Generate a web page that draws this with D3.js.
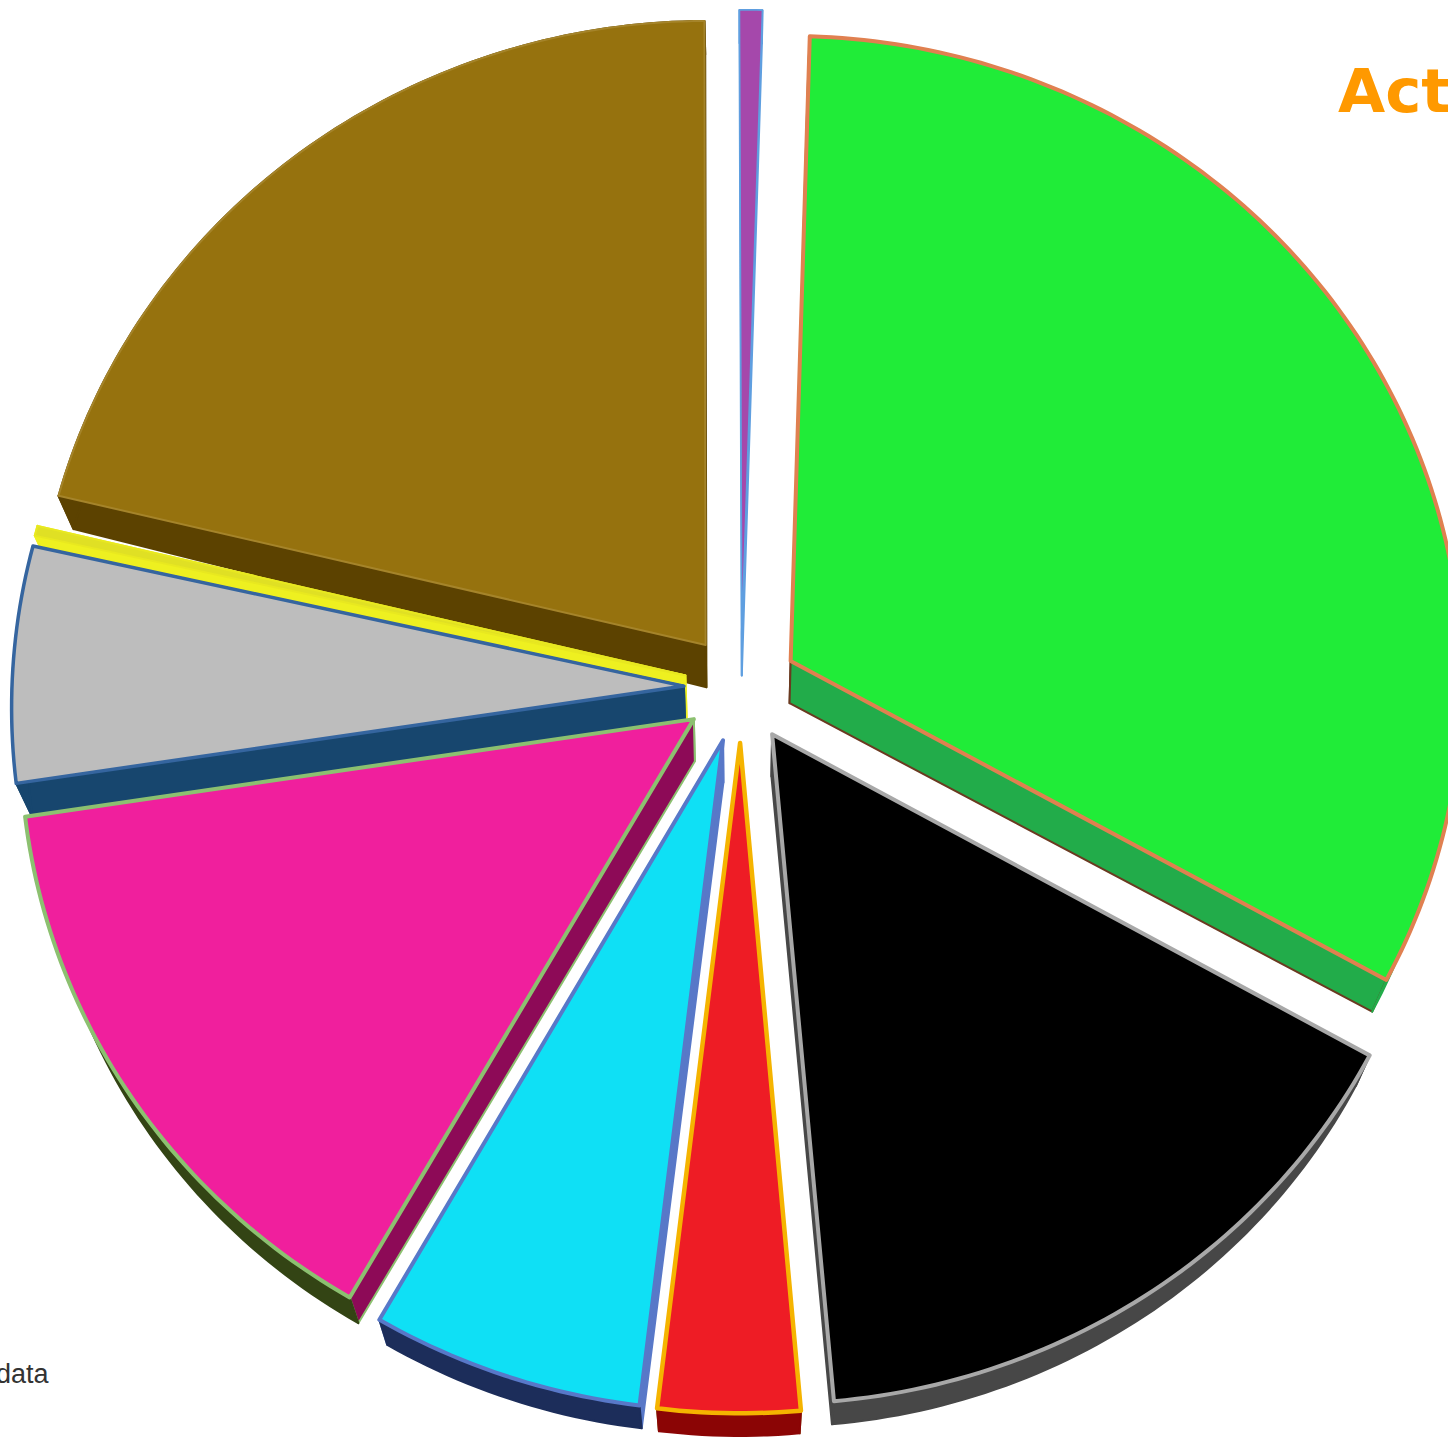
<!DOCTYPE html>
<html>
<head>
<meta charset="utf-8">
<script src="https://cdn.jsdelivr.net/npm/d3@7/dist/d3.min.js"></script>
<style>
html, body { margin: 0; padding: 0; background: #fff; overflow: hidden; }
svg { display: block; }
</style>
</head>
<body>
<svg id="chart" width="1448" height="1440"></svg>
<script>
// Share of each segment, clockwise from twelve o'clock
const segments = ["Purple", "Green", "Black", "Red", "Cyan", "Pink", "Grey", "Yellow", "Brown"];
const shares = [0.56, 32.6, 15.5, 3.3, 6.35, 14.35, 5.9, 0.25, 21.19];

// Face, outline, radial wall and rim colours per segment
const faceColors = ["#a548ab", "#20ec38", "#000000", "#ee1c25", "#0fe0f5", "#f01f9d", "#bdbdbd", "#e0e024", "#96720e"];
const edgeColors = ["#5f9fe0", "#e08050", "#a8a8a8", "#f5b400", "#5878c8", "#8cc070", "#35659f", "#e8e820", "#a5842a"];
const edgeWidths = [1.5, 4, 4, 4.5, 4, 4, 3.5, 2, 2];
const wallColors = ["#5f9fe0", "#22ac4a", "#474747", "#8b0505", "#5878c8", "#8d0a57", "#17466e", "#eef020", "#5c4200"];
const rimColors = ["#5f9fe0", "#22ac4a", "#474747", "#8b0505", "#1c2d5a", "#334414", "#17466e", "#eef020", "#5c4200"];
const wallEdgeColors = ["#5f9fe0", "#6a3a20", "#474747", "#7a5a00", "#5878c8", "#8cc070", "#17466e", "#eef020", "#5c4200"];

const cx = 741, cy = 688;
const radiusX = 672, radiusY = 646;
const perspective = 0.031;
const explode = 0.085;

const pie = d3.pie().sort(null).value(d => d)
  .startAngle(-0.2 * Math.PI / 180)
  .endAngle((360 - 0.2) * Math.PI / 180);

// Perspective view of the tilted disc, v grows towards the viewer
function project(u, v) {
  const s = 1 / (1 - perspective * v);
  return [cx + radiusX * u * s, cy + radiusY * v * s];
}

// Lower face of the disc: thinner at the rim and towards the front
function lower(u, v) {
  const [x, y] = project(u, v);
  const rho = Math.min(1.1, Math.hypot(u, v));
  const front = Math.max(0, v);
  return [x - 0.022 * (x - cx), y + 43 - 9 * rho - 9 * front * front];
}

const line = d3.line();
const svg = d3.select("#chart");

function pieceOf(arc) {
  const mid = (arc.startAngle + arc.endAngle) / 2;
  const ox = explode * Math.sin(mid), oy = -explode * Math.cos(mid);
  const apex = [ox, oy];
  const steps = Math.max(4, Math.ceil((arc.endAngle - arc.startAngle) * 60));
  const rim = d3.range(steps + 1).map(i => {
    const a = arc.startAngle + (arc.endAngle - arc.startAngle) * i / steps;
    return [ox + Math.sin(a), oy - Math.cos(a)];
  });
  return { apex, rim };
}

// Back segments first so the nearer walls overlap them
const drawOrder = [0, 8, 7, 6, 1, 5, 2, 4, 3];
const arcs = pie(shares);

const groups = svg.selectAll("g.segment")
  .data(drawOrder.map(i => ({ i, arc: arcs[i], piece: pieceOf(arcs[i]) })))
  .join("g")
  .attr("class", "segment")
  .attr("data-name", d => segments[d.i]);

function band(points) {
  const top = points.map(p => project(p[0], p[1]));
  const bottom = points.map(p => lower(p[0], p[1])).reverse();
  return line(top.concat(bottom)) + "Z";
}

// The radial wall that reaches further back is painted first
const walls = d => {
  const { apex, rim } = d.piece;
  const ends = [rim[0], rim[rim.length - 1]].sort((a, b) => a[1] - b[1]);
  return [
    { path: band([apex, ends[0]]), fill: wallColors[d.i], stroke: wallEdgeColors[d.i] },
    { path: band([apex, ends[1]]), fill: wallColors[d.i], stroke: wallEdgeColors[d.i] },
    { path: band(rim), fill: rimColors[d.i], stroke: rimColors[d.i] }
  ];
};

groups.selectAll("path.wall")
  .data(walls)
  .join("path")
  .attr("class", "wall")
  .attr("d", d => d.path)
  .attr("fill", d => d.fill)
  .attr("stroke", d => d.stroke)
  .attr("stroke-width", 2)
  .attr("stroke-linejoin", "round");

groups.append("path")
  .attr("class", "face")
  .attr("d", d => {
    const outline = [d.piece.apex].concat(d.piece.rim).map(p => project(p[0], p[1]));
    return line(outline) + "Z";
  })
  .attr("fill", d => faceColors[d.i])
  .attr("stroke", d => edgeColors[d.i])
  .attr("stroke-width", d => edgeWidths[d.i])
  .attr("stroke-linejoin", "round");

svg.append("text")
  .attr("x", 1338)
  .attr("y", 112)
  .attr("font-family", "'DejaVu Sans', sans-serif")
  .attr("font-size", 61)
  .attr("font-weight", "bold")
  .attr("fill", "#ff9900")
  .text("Acti");

svg.append("text")
  .attr("x", -4)
  .attr("y", 1383)
  .attr("font-family", "'Liberation Sans', Arial, sans-serif")
  .attr("font-size", 27)
  .attr("fill", "#333333")
  .text("data");
</script>
</body>
</html>
